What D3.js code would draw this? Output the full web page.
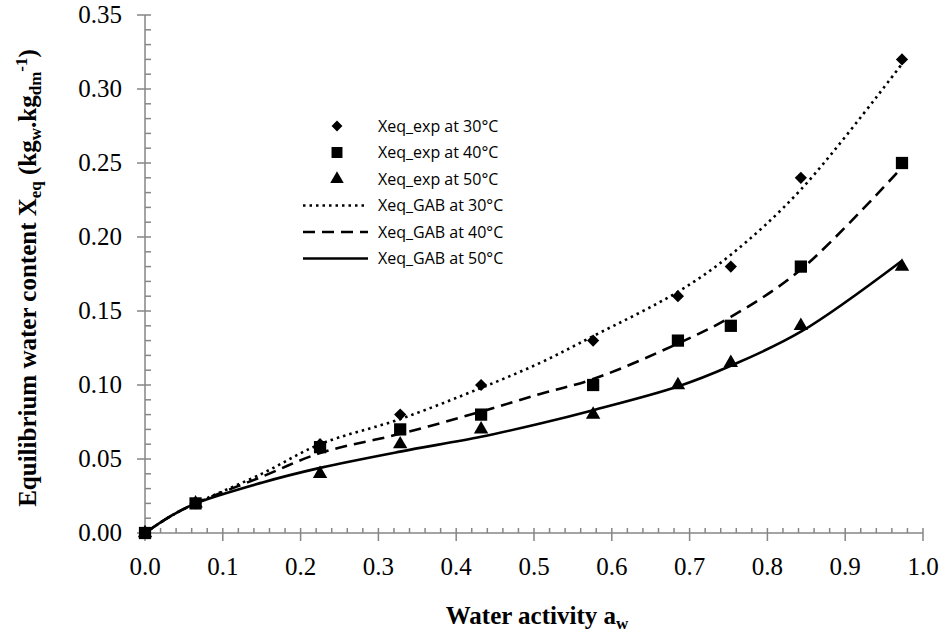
<!DOCTYPE html>
<html lang="en">
<head>
    <meta charset="UTF-8">
    <title>Equilibrium water content vs water activity</title>
    <script src="https://d3js.org/d3.v7.min.js"></script>
    <style>
        body {
            margin: 0;
            padding: 0;
            background: #fff;
        }
        .tick-label {
            font-family: "Liberation Serif", "Times New Roman", serif;
            font-size: 25px;
            fill: #000;
        }
        .axis-title {
            font-family: "Liberation Serif", "Times New Roman", serif;
            font-size: 25px;
            font-weight: bold;
            fill: #000;
        }
        .legend-text {
            font-family: "Open Sans", "Noto Sans", sans-serif;
            font-size: 16px;
            fill: #000;
        }
    </style>
</head>
<body>
    <div id="chart"></div>

    <script>
        // measured water activity
        const aw = [0, 0.065, 0.225, 0.328, 0.432, 0.576, 0.685, 0.753, 0.843, 0.973];

        // experimental points
        const exp30 = [0, 0.02, 0.06, 0.08, 0.10, 0.13, 0.16, 0.18, 0.24, 0.32];
        const exp40 = [0, 0.02, 0.058, 0.07, 0.08, 0.10, 0.13, 0.14, 0.18, 0.25];
        const exp50 = [0, 0.02, 0.04, 0.06, 0.07, 0.08, 0.10, 0.115, 0.14, 0.18];

        // GAB model curves
        const awGab = [0, 0.035, 0.065, 0.15, 0.225, 0.328, 0.432, 0.508, 0.576, 0.685, 0.753, 0.843, 0.973];
        const gab30 = [0, 0.012, 0.02, 0.040, 0.060, 0.077, 0.098, 0.115, 0.133, 0.163, 0.188, 0.232, 0.317];
        const gab40 = [0, 0.012, 0.02, 0.038, 0.054, 0.067, 0.082, 0.094, 0.104, 0.128, 0.146, 0.178, 0.247];
        const gab50 = [0, 0.012, 0.02, 0.034, 0.044, 0.055, 0.065, 0.074, 0.083, 0.099, 0.113, 0.136, 0.184];

        const xTicks = [0, 0.1, 0.2, 0.3, 0.4, 0.5, 0.6, 0.7, 0.8, 0.9, 1.0];
        const yTicks = [0, 0.05, 0.10, 0.15, 0.20, 0.25, 0.30, 0.35];

        const width = 945, height = 637;
        const axisColor = "#868686";

        const svg = d3.select("#chart").append("svg")
            .attr("width", width)
            .attr("height", height);

        const x = d3.scaleLinear().domain([0, 1]).range([145, 923]);
        const y = d3.scaleLinear().domain([0, 0.35]).range([533, 15]);

        // minor ticks (inside)
        const xMinor = d3.range(0, 51).map(i => i * 0.02);
        const yMinor = d3.range(0, 36).map(i => i * 0.01);

        const axes = svg.append("g").attr("stroke", axisColor).attr("stroke-width", 1.5);

        axes.selectAll(".xminor").data(xMinor).enter().append("line")
            .attr("x1", d => x(d)).attr("x2", d => x(d))
            .attr("y1", y(0)).attr("y2", y(0) - 5);
        axes.selectAll(".xmajor").data(xTicks).enter().append("line")
            .attr("x1", d => x(d)).attr("x2", d => x(d))
            .attr("y1", y(0)).attr("y2", y(0) + 8);
        axes.selectAll(".yminor").data(yMinor).enter().append("line")
            .attr("x1", x(0)).attr("x2", x(0) + 6)
            .attr("y1", d => y(d)).attr("y2", d => y(d));
        axes.selectAll(".ymajor").data(yTicks).enter().append("line")
            .attr("x1", x(0) - 8).attr("x2", x(0))
            .attr("y1", d => y(d)).attr("y2", d => y(d));
        axes.append("line")
            .attr("x1", x(0)).attr("x2", x(1))
            .attr("y1", y(0)).attr("y2", y(0));
        axes.append("line")
            .attr("x1", x(0)).attr("x2", x(0))
            .attr("y1", y(0)).attr("y2", y(0.35));

        // tick labels
        svg.selectAll(".xlab").data(xTicks).enter().append("text")
            .attr("class", "tick-label")
            .attr("x", d => x(d))
            .attr("y", y(0) + 42)
            .attr("text-anchor", "middle")
            .text(d => d.toFixed(1));
        svg.selectAll(".ylab").data(yTicks).enter().append("text")
            .attr("class", "tick-label")
            .attr("x", x(0) - 23)
            .attr("y", d => y(d) + 8)
            .attr("text-anchor", "end")
            .text(d => d.toFixed(2));

        // axis titles
        const xt = svg.append("text").attr("class", "axis-title")
            .attr("x", 537).attr("y", 624).attr("text-anchor", "middle");
        xt.append("tspan").text("Water activity a");
        xt.append("tspan").attr("font-size", 17).attr("dy", 5).text("w");

        const yt = svg.append("text").attr("class", "axis-title")
            .attr("transform", "translate(36,278) rotate(-90)")
            .attr("text-anchor", "middle");
        yt.append("tspan").text("Equilibrium water content X");
        yt.append("tspan").attr("font-size", 17).attr("dy", 5).text("eq");
        yt.append("tspan").attr("dy", -5).text(" (kg");
        yt.append("tspan").attr("font-size", 17).attr("dy", 5).text("w");
        yt.append("tspan").attr("dy", -5).text(".kg");
        yt.append("tspan").attr("font-size", 17).attr("dy", 5).text("dm");
        yt.append("tspan").attr("font-size", 17).attr("dy", -14).text("-1");
        yt.append("tspan").attr("dy", 9).text(")");

        // GAB curves
        const line = d3.line()
            .x(d => x(d[0]))
            .y(d => y(d[1]))
            .curve(d3.curveCatmullRom.alpha(0.5));

        const curves = [
            { vals: gab30, dash: "2.5,4" },
            { vals: gab40, dash: "12,7" },
            { vals: gab50, dash: null }
        ];
        curves.forEach(c => {
            svg.append("path")
                .datum(awGab.map((a, i) => [a, c.vals[i]]))
                .attr("fill", "none")
                .attr("stroke", "#000")
                .attr("stroke-width", 2.6)
                .attr("stroke-dasharray", c.dash)
                .attr("d", line);
        });

        // markers
        const diamond = d3.symbol().type(d3.symbolDiamond2).size(95);
        const square = d3.symbol().type(d3.symbolSquare).size(150);
        const triangle = d3.symbol().type(d3.symbolTriangle).size(90);

        const series = [
            { vals: exp30, sym: diamond },
            { vals: exp40, sym: square },
            { vals: exp50, sym: triangle }
        ];
        series.forEach(s => {
            svg.append("g").selectAll("path")
                .data(aw.map((a, i) => [a, s.vals[i]]))
                .enter().append("path")
                .attr("transform", d => `translate(${x(d[0])},${y(d[1])})`)
                .attr("d", s.sym)
                .attr("fill", "#000");
        });

        // legend
        const legendItems = [
            { label: "Xeq_exp at 30°C", sym: diamond, size: 75 },
            { label: "Xeq_exp at 40°C", sym: square, size: 120 },
            { label: "Xeq_exp at 50°C", sym: triangle, size: 80 },
            { label: "Xeq_GAB at 30°C", dash: "2.5,4" },
            { label: "Xeq_GAB at 40°C", dash: "12,7" },
            { label: "Xeq_GAB at 50°C", dash: null }
        ];
        const legend = svg.append("g");
        legendItems.forEach((d, i) => {
            const ly = 126 + i * 26.5;
            if (d.sym) {
                legend.append("path")
                    .attr("transform", `translate(337,${ly})`)
                    .attr("d", d.sym.size(d.size)())
                    .attr("fill", "#000");
            } else {
                legend.append("line")
                    .attr("x1", 303).attr("x2", 368)
                    .attr("y1", ly).attr("y2", ly)
                    .attr("stroke", "#000")
                    .attr("stroke-width", 2.6)
                    .attr("stroke-dasharray", d.dash);
            }
            legend.append("text")
                .attr("class", "legend-text")
                .attr("x", 378)
                .attr("y", ly + 5.5)
                .text(d.label);
        });
    </script>
</body>
</html>
